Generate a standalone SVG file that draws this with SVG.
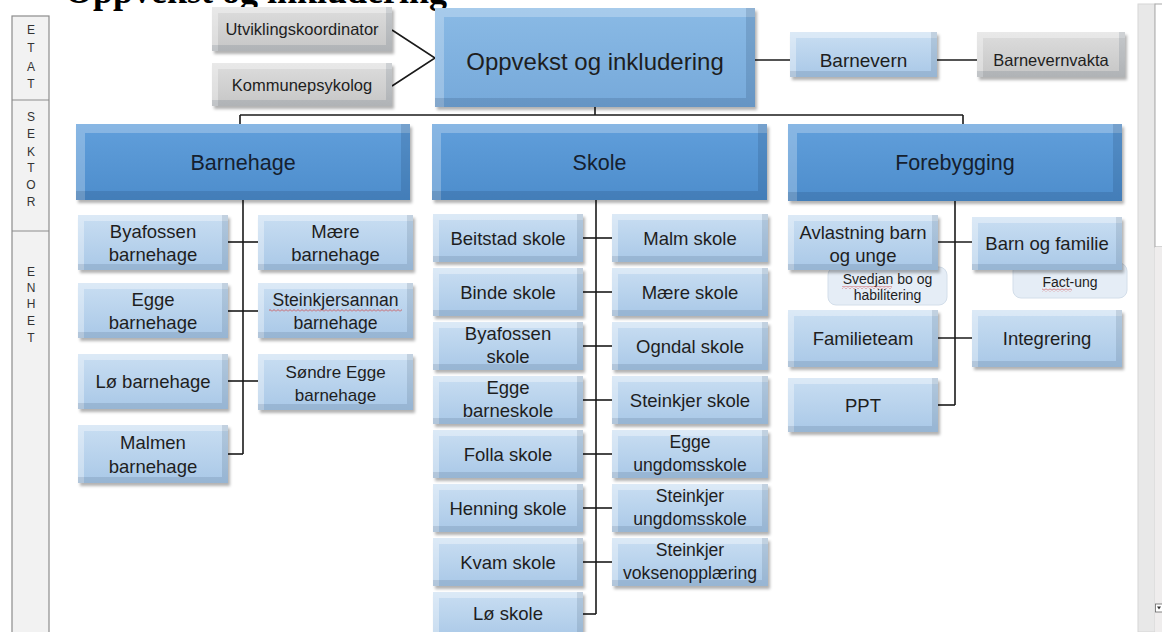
<svg xmlns="http://www.w3.org/2000/svg" width="1162" height="632" viewBox="0 0 1162 632">
<defs>
<style>
text{font-family:"Liberation Sans",Arial,sans-serif;fill:#1e1e1e;text-anchor:middle}
.title{font-family:"Liberation Serif","Times New Roman",serif;font-weight:bold;font-size:36px;fill:#000;text-anchor:start}
.side{font-size:12px;fill:#333}
.c{fill:url(#gChild);filter:url(#bev)}
.g{fill:url(#gGray);filter:url(#bev)}
.s{fill:url(#gSect);filter:url(#bevL)}
.top{fill:url(#gTop);filter:url(#bevL)}
.pale{fill:#e5edf6;stroke:#d3deea;stroke-width:1}
.t{font-size:18.5px}
.t2{font-size:17.6px}
.tg{font-size:16.5px}
.ts{font-size:21.5px;fill:#15202e}
.tp{font-size:14px}
.conn line,.conn polyline{stroke:#1a1a1a;stroke-width:1.6;fill:none}
</style>
<linearGradient id="gChild" x1="0" y1="0" x2="0" y2="1"><stop offset="0" stop-color="#c9def2"/><stop offset="1" stop-color="#a9c8e7"/></linearGradient>
<linearGradient id="gGray" x1="0" y1="0" x2="0" y2="1"><stop offset="0" stop-color="#dddddd"/><stop offset="1" stop-color="#c6c6c6"/></linearGradient>
<linearGradient id="gSect" x1="0" y1="0" x2="0" y2="1"><stop offset="0" stop-color="#619fdb"/><stop offset="1" stop-color="#4d8dcc"/></linearGradient>
<linearGradient id="gTop" x1="0" y1="0" x2="0" y2="1"><stop offset="0" stop-color="#8abae5"/><stop offset="1" stop-color="#76a9da"/></linearGradient>
<filter id="bev" x="-5%" y="-15%" width="112%" height="135%" color-interpolation-filters="sRGB">
<feOffset in="SourceAlpha" dx="6" dy="6" result="a"/>
<feComposite in="SourceAlpha" in2="a" operator="out" result="tl"/>
<feFlood flood-color="#ffffff" flood-opacity="0.35"/>
<feComposite in2="tl" operator="in" result="tlc"/>
<feOffset in="SourceAlpha" dx="-6" dy="-6" result="b"/>
<feComposite in="SourceAlpha" in2="b" operator="out" result="br"/>
<feFlood flood-color="#1c3450" flood-opacity="0.13"/>
<feComposite in2="br" operator="in" result="brc"/>
<feOffset in="SourceAlpha" dx="1.5" dy="2.5" result="s"/>
<feGaussianBlur in="s" stdDeviation="1.5" result="sb"/>
<feFlood flood-color="#000000" flood-opacity="0.3"/>
<feComposite in2="sb" operator="in" result="sh"/>
<feMerge><feMergeNode in="sh"/><feMergeNode in="SourceGraphic"/><feMergeNode in="tlc"/><feMergeNode in="brc"/></feMerge>
</filter>
<filter id="bevL" x="-5%" y="-15%" width="112%" height="135%" color-interpolation-filters="sRGB">
<feOffset in="SourceAlpha" dx="9" dy="9" result="a"/>
<feComposite in="SourceAlpha" in2="a" operator="out" result="tl"/>
<feFlood flood-color="#ffffff" flood-opacity="0.25"/>
<feComposite in2="tl" operator="in" result="tlc"/>
<feOffset in="SourceAlpha" dx="-9" dy="-9" result="b"/>
<feComposite in="SourceAlpha" in2="b" operator="out" result="br"/>
<feFlood flood-color="#102a48" flood-opacity="0.15"/>
<feComposite in2="br" operator="in" result="brc"/>
<feOffset in="SourceAlpha" dx="1.5" dy="2.5" result="s"/>
<feGaussianBlur in="s" stdDeviation="1.5" result="sb"/>
<feFlood flood-color="#000000" flood-opacity="0.3"/>
<feComposite in2="sb" operator="in" result="sh"/>
<feMerge><feMergeNode in="sh"/><feMergeNode in="SourceGraphic"/><feMergeNode in="tlc"/><feMergeNode in="brc"/></feMerge>
</filter>
<pattern id="sq" width="4" height="3" patternUnits="userSpaceOnUse"><path d="M0 2.5 L2 0.5 L4 2.5" stroke="#d04040" stroke-width="0.8" fill="none"/></pattern>
</defs>
<rect width="1162" height="632" fill="#ffffff"/>

<text class="title" x="65" y="3">Oppvekst og inkludering</text>

<g id="sidebar">
<rect x="12" y="16" width="37" height="620" fill="#f2f2f2" stroke="#8c8c8c" stroke-width="1.2"/>
<line x1="12" y1="100" x2="49" y2="100" stroke="#8c8c8c" stroke-width="1.2"/>
<line x1="12" y1="231" x2="49" y2="231" stroke="#8c8c8c" stroke-width="1.2"/>
<text class="side" x="31" y="34">E</text><text class="side" x="31" y="52">T</text><text class="side" x="31" y="71">A</text><text class="side" x="31" y="88">T</text>
<text class="side" x="31" y="121">S</text><text class="side" x="31" y="138">E</text><text class="side" x="31" y="156">K</text><text class="side" x="31" y="172">T</text><text class="side" x="31" y="189">O</text><text class="side" x="31" y="206">R</text>
<text class="side" x="31" y="276">E</text><text class="side" x="31" y="292">N</text><text class="side" x="31" y="308">H</text><text class="side" x="31" y="325">E</text><text class="side" x="31" y="342">T</text>
</g>

<g id="scrollbar">
<rect x="1138" y="4" width="17" height="628" fill="#e8e8e8" stroke="#d6d6d6" stroke-width="1"/>
<rect x="1155" y="4" width="8" height="243" fill="#ffffff" stroke="#a8a8a8" stroke-width="1"/>
<rect x="1155" y="247" width="8" height="385" fill="#efeded"/>
<rect x="1155.5" y="604" width="7" height="8" fill="#ffffff" stroke="#666" stroke-width="0.8"/>
<path d="M1157 606.5 L1161 606.5 L1159 609.5 Z" fill="#333"/>
</g>

<g class="conn" id="connectors">
<polyline points="392,30 435,58 392,86"/>
<line x1="755" y1="60" x2="790" y2="60"/>
<line x1="937" y1="60" x2="977" y2="60"/>
<line x1="595" y1="107" x2="595" y2="115"/>
<line x1="240" y1="115" x2="963" y2="115"/>
<line x1="240" y1="115" x2="240" y2="125"/>
<line x1="963" y1="115" x2="963" y2="125"/>
<line x1="243" y1="200" x2="243" y2="454"/>
<line x1="228" y1="242" x2="258" y2="242"/>
<line x1="228" y1="311" x2="258" y2="311"/>
<line x1="228" y1="381" x2="258" y2="381"/>
<line x1="228" y1="454" x2="243" y2="454"/>
<line x1="596" y1="200" x2="596" y2="614"/>
<line x1="583" y1="238" x2="612" y2="238"/>
<line x1="583" y1="292" x2="612" y2="292"/>
<line x1="583" y1="346" x2="612" y2="346"/>
<line x1="583" y1="400" x2="612" y2="400"/>
<line x1="583" y1="454" x2="612" y2="454"/>
<line x1="583" y1="508" x2="612" y2="508"/>
<line x1="583" y1="562" x2="612" y2="562"/>
<line x1="583" y1="614" x2="596" y2="614"/>
<line x1="955" y1="201" x2="955" y2="405"/>
<line x1="938" y1="242" x2="972" y2="242"/>
<line x1="938" y1="338" x2="972" y2="338"/>
<line x1="938" y1="405" x2="955" y2="405"/>
</g>

<g id="utviklingskoordinator"><rect class="g" x="212" y="7" width="180" height="44"/><text class="tg" x="302" y="35">Utviklingskoordinator</text></g>
<g id="kommunepsykolog"><rect class="g" x="212" y="63" width="180" height="43"/><text class="tg" x="302" y="90.5">Kommunepsykolog</text></g>
<g id="oppvekst"><rect class="top" x="435" y="8" width="320" height="99"/><text x="595" y="70" style="font-size:24px">Oppvekst og inkludering</text></g>
<g id="barnevern"><rect class="c" x="790" y="32" width="147" height="45"/><text x="863.5" y="66.5" style="font-size:19px">Barnevern</text></g>
<g id="barnevernvakta"><rect class="g" x="977" y="32" width="148" height="45"/><text class="tg" x="1051" y="66">Barnevernvakta</text></g>

<g id="barnehage"><rect class="s" x="76" y="124" width="334" height="76"/><text class="ts" x="243" y="170">Barnehage</text></g>
<g id="skole"><rect class="s" x="432" y="124" width="335" height="76"/><text class="ts" x="599.5" y="170">Skole</text></g>
<g id="forebygging"><rect class="s" x="788" y="124" width="334" height="77"/><text class="ts" x="955" y="170">Forebygging</text></g>

<g id="byafossen-barnehage"><rect class="c" x="78" y="215" width="150" height="55"/><text class="t" x="153" y="237.5">Byafossen</text><text class="t" x="153" y="260.5">barnehage</text></g>
<g id="maere-barnehage"><rect class="c" x="258" y="215" width="155" height="55"/><text class="t" x="335.5" y="237.5">Mære</text><text class="t" x="335.5" y="260.5">barnehage</text></g>
<g id="egge-barnehage"><rect class="c" x="78" y="283" width="150" height="55"/><text class="t" x="153" y="305.5">Egge</text><text class="t" x="153" y="328.5">barnehage</text></g>
<g id="steinkjersannan-barnehage"><rect class="c" x="258" y="283" width="155" height="55"/><text class="t2" x="335.5" y="305.5">Steinkjersannan</text><text class="t2" x="335.5" y="328.5">barnehage</text><rect x="269" y="309" width="133" height="3" fill="url(#sq)"/></g>
<g id="lo-barnehage"><rect class="c" x="78" y="354" width="150" height="55"/><text class="t" x="153" y="388">Lø barnehage</text></g>
<g id="sondre-egge-barnehage"><rect class="c" x="258" y="354" width="155" height="56"/><text x="335.5" y="377.5" style="font-size:17px">Søndre Egge</text><text x="335.5" y="400.5" style="font-size:17px">barnehage</text></g>
<g id="malmen-barnehage"><rect class="c" x="78" y="425" width="150" height="58"/><text class="t" x="153" y="449">Malmen</text><text class="t" x="153" y="472.5">barnehage</text></g>

<g id="beitstad-skole"><rect class="c" x="433" y="214" width="150" height="48"/><text class="t" x="508" y="244.6">Beitstad skole</text></g>
<g id="malm-skole"><rect class="c" x="612" y="214" width="156" height="48"/><text class="t" x="690" y="244.6">Malm skole</text></g>
<g id="binde-skole"><rect class="c" x="433" y="268" width="150" height="48"/><text class="t" x="508" y="298.6">Binde skole</text></g>
<g id="maere-skole"><rect class="c" x="612" y="268" width="156" height="48"/><text class="t" x="690" y="298.6">Mære skole</text></g>
<g id="byafossen-skole"><rect class="c" x="433" y="322" width="150" height="48"/><text class="t" x="508" y="340">Byafossen</text><text class="t" x="508" y="363">skole</text></g>
<g id="ogndal-skole"><rect class="c" x="612" y="322" width="156" height="48"/><text class="t" x="690" y="352.6">Ogndal skole</text></g>
<g id="egge-barneskole"><rect class="c" x="433" y="376" width="150" height="48"/><text class="t" x="508" y="394">Egge</text><text class="t" x="508" y="417">barneskole</text></g>
<g id="steinkjer-skole"><rect class="c" x="612" y="376" width="156" height="48"/><text class="t" x="690" y="406.6">Steinkjer skole</text></g>
<g id="folla-skole"><rect class="c" x="433" y="430" width="150" height="48"/><text class="t" x="508" y="460.6">Folla skole</text></g>
<g id="egge-ungdomsskole"><rect class="c" x="612" y="430" width="156" height="48"/><text class="t2" x="690" y="448">Egge</text><text class="t2" x="690" y="471">ungdomsskole</text></g>
<g id="henning-skole"><rect class="c" x="433" y="484" width="150" height="48"/><text class="t" x="508" y="514.6">Henning skole</text></g>
<g id="steinkjer-ungdomsskole"><rect class="c" x="612" y="484" width="156" height="48"/><text class="t2" x="690" y="502">Steinkjer</text><text class="t2" x="690" y="525">ungdomsskole</text></g>
<g id="kvam-skole"><rect class="c" x="433" y="538" width="150" height="48"/><text class="t" x="508" y="568.6">Kvam skole</text></g>
<g id="steinkjer-voksenopplaering"><rect class="c" x="612" y="538" width="156" height="48"/><text class="t2" x="690" y="556">Steinkjer</text><text class="t2" x="690" y="579">voksenopplæring</text></g>
<g id="lo-skole"><rect class="c" x="433" y="592" width="150" height="48"/><text class="t" x="508" y="620">Lø skole</text></g>

<g id="svedjan"><rect class="pale" x="828" y="267" width="119" height="38" rx="8"/><text class="tp" x="887.5" y="284">Svedjan bo og</text><text class="tp" x="887.5" y="300">habilitering</text><rect x="842" y="286" width="50" height="3" fill="url(#sq)"/></g>
<g id="fact-ung"><rect class="pale" x="1013" y="263" width="114" height="35" rx="8"/><text class="tp" x="1070" y="287">Fact-ung</text><rect x="1042" y="288.5" width="30" height="3" fill="url(#sq)"/></g>
<g id="avlastning"><rect class="c" x="788" y="215" width="150" height="55"/><text class="t" x="863" y="238.5">Avlastning barn</text><text class="t" x="863" y="261.5">og unge</text></g>
<g id="barn-og-familie"><rect class="c" x="972" y="217" width="150" height="53"/><text class="t" x="1047" y="249.5">Barn og familie</text></g>
<g id="familieteam"><rect class="c" x="788" y="310" width="150" height="57"/><text class="t" x="863" y="344.5">Familieteam</text></g>
<g id="integrering"><rect class="c" x="972" y="310" width="150" height="57"/><text class="t" x="1047" y="344.5">Integrering</text></g>
<g id="ppt"><rect class="c" x="788" y="378" width="150" height="54"/><text class="t" x="863" y="411.5">PPT</text></g>
</svg>
